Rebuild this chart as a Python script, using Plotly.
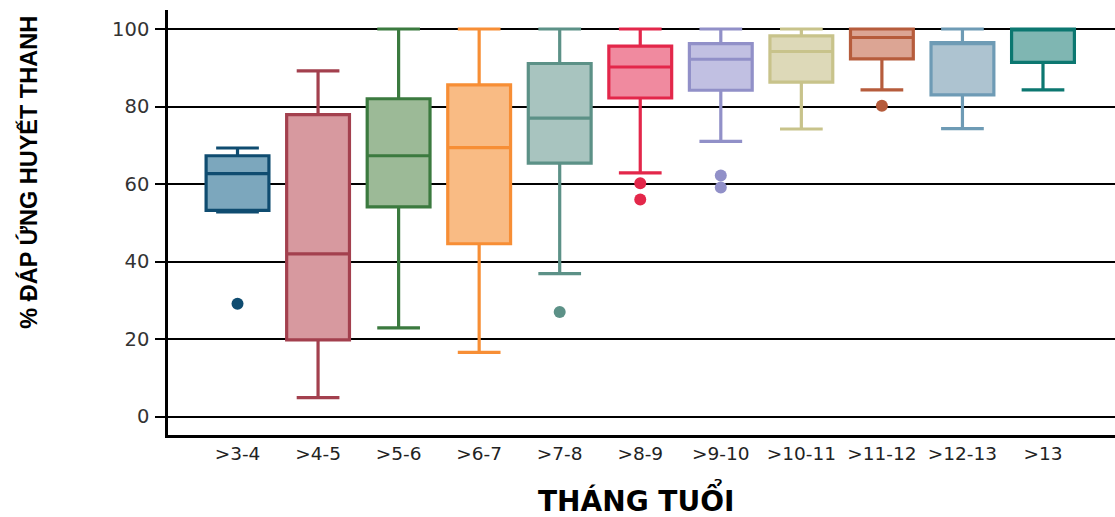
import plotly.graph_objects as go

categories = [">3-4", ">4-5", ">5-6", ">6-7", ">7-8", ">8-9", ">9-10", ">10-11", ">11-12", ">12-13", ">13"]
q1 = [53.2, 19.8, 54.1, 44.6, 65.4, 82.2, 84.2, 86.3, 92.3, 83.0, 91.4]
median = [62.7, 42.0, 67.3, 69.4, 77.0, 90.2, 92.2, 94.2, 97.8, 96.5, 100.0]
q3 = [67.3, 77.9, 82.0, 85.6, 91.1, 95.6, 96.2, 98.2, 100.0, 96.5, 100.0]
lower_fence = [52.8, 4.9, 22.9, 16.6, 36.9, 62.9, 71.0, 74.2, 84.3, 74.3, 84.3]
upper_fence = [69.3, 89.2, 100.0, 100.0, 100.0, 100.0, 100.0, 100.0, 100.0, 100.0, 100.0]

outlier_cats = [">3-4", ">7-8", ">8-9", ">8-9", ">9-10", ">9-10", ">11-12"]
outlier_vals = [29.1, 27.0, 60.2, 56.0, 62.2, 59.1, 80.2]

line_colors = ["#0f4c70", "#a3404e", "#3b7a3f", "#f78e35", "#5c9187", "#e3274a",
               "#9190c8", "#c8c38b", "#b65c3c", "#6e9bb5", "#0c7770"]
fill_colors = ["#7ca7bd", "#d7999f", "#9cba97", "#f9bb84", "#a8c4bf", "#f08a9f",
               "#c1c0e2", "#ddd9b8", "#dca594", "#adc3d0", "#7fb6b2"]

fig = go.Figure()
for i, c in enumerate(categories):
    fig.add_trace(go.Box(
        x=[c], q1=[q1[i]], median=[median[i]], q3=[q3[i]],
        lowerfence=[lower_fence[i]], upperfence=[upper_fence[i]],
        width=0.78, whiskerwidth=0.68,
        line=dict(color=line_colors[i], width=3.2),
        fillcolor=fill_colors[i], boxpoints=False, showlegend=False,
    ))

oc = [line_colors[categories.index(c)] for c in outlier_cats]
fig.add_trace(go.Scatter(
    x=outlier_cats, y=outlier_vals, mode="markers",
    marker=dict(color=oc, size=12, line=dict(width=0)), showlegend=False,
))

fig.update_layout(
    width=1115, height=517,
    margin=dict(l=168, r=0, t=10, b=82),
    paper_bgcolor="white", plot_bgcolor="white",
    boxmode="overlay",
    xaxis=dict(
        type="category", categoryorder="array", categoryarray=categories,
        range=[-0.863, 10.894], showgrid=False, zeroline=False,
        showline=True, linecolor="black", linewidth=2.5,
        ticks="", tickfont=dict(family="DejaVu Sans", size=18.5, color="#222"),
        ticklabelstandoff=0,
    ),
    yaxis=dict(
        range=[-4.74, 104.9], tickvals=[0, 20, 40, 60, 80, 100],
        showgrid=True, gridcolor="black", gridwidth=2, zeroline=False,
        showline=True, linecolor="black", linewidth=2.5,
        ticks="outside", ticklen=10, tickwidth=2, tickcolor="black",
        tickfont=dict(family="DejaVu Sans", size=19.5, color="#333"),
        ticklabelstandoff=2,
    ),
    annotations=[
        dict(text="THÁNG TUỔI", xref="paper", yref="paper", x=(636 - 168) / 947, y=-(521 - 435.7) / 425.7,
             showarrow=False, font=dict(family="DejaVu Sans", size=28, color="black", weight="bold"),
             xanchor="center", yanchor="bottom"),
        dict(text="% ĐÁP ỨNG HUYẾT THANH", xref="paper", yref="paper", x=-(168 - 29) / 947,
             y=(435.7 - 173) / 425.7, textangle=-90, showarrow=False,
             font=dict(family="Liberation Sans", size=23.5, color="black", weight="bold"),
             xanchor="center", yanchor="middle"),
    ],
)

fig.write_html("out.html")
